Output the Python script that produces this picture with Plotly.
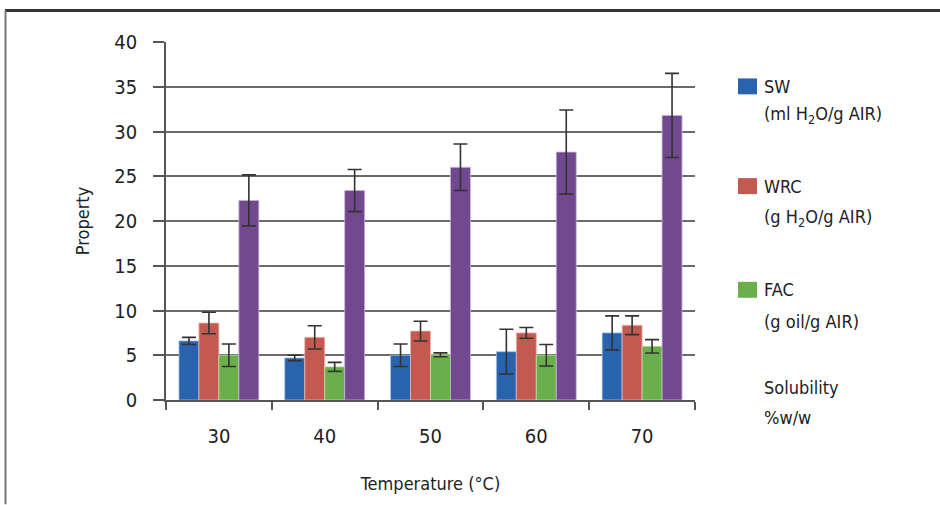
import plotly.graph_objects as go

categories = ["30", "40", "50", "60", "70"]

sw_values = [6.6, 4.7, 5.0, 5.4, 7.5]
sw_errors = [0.4, 0.3, 1.25, 2.5, 1.9]

wrc_values = [8.6, 7.0, 7.7, 7.5, 8.35]
wrc_errors = [1.2, 1.3, 1.1, 0.6, 1.05]

fac_values = [5.0, 3.7, 5.05, 5.0, 6.0]
fac_errors = [1.25, 0.5, 0.22, 1.2, 0.75]

sol_values = [22.3, 23.4, 26.0, 27.7, 31.8]
sol_errors = [2.85, 2.35, 2.6, 4.7, 4.7]

y_ticks = [0, 5, 10, 15, 20, 25, 30, 35, 40]

FONT = "DejaVu Sans Condensed, Liberation Sans Narrow, sans-serif"
TXT = "#222222"

W, H = 940, 505
L, R, T, B = 166, 695, 41.5, 400.5


def px(x):
    return (x - L) / (R - L)


def py(y):
    return (B - y) / (B - T)


series = [
    ("SW", sw_values, sw_errors, "#2A63AD", "rgba(160,190,230,0.8)"),
    ("WRC", wrc_values, wrc_errors, "#C35A51", "rgba(235,180,175,0.8)"),
    ("FAC", fac_values, fac_errors, "#6AAF4B", "rgba(185,225,170,0.8)"),
    ("Solubility", sol_values, sol_errors, "#72488F", "rgba(200,180,220,0.8)"),
]

fig = go.Figure()
for name, vals, errs, color, edge in series:
    fig.add_trace(go.Bar(
        x=categories, y=vals, name=name,
        marker=dict(color=color, line=dict(color=edge, width=1)),
        error_y=dict(type="data", array=errs, visible=True,
                     color="#333333", thickness=1.6, width=7),
        showlegend=False,
    ))

fig.update_layout(
    width=W, height=H,
    margin=dict(l=L, r=W - R, t=T, b=H - B, pad=0),
    paper_bgcolor="white", plot_bgcolor="white",
    barmode="group", bargap=0.245, bargroupgap=0,
    font=dict(family=FONT, color=TXT, size=19),
    xaxis=dict(
        type="category", tickson="boundaries",
        ticks="outside", ticklen=8, tickwidth=1.5, tickcolor="#555555",
        showline=True, linecolor="#555555", linewidth=1.5,
        showgrid=False,
        ticklabelstandoff=17,
        tickfont=dict(family=FONT, size=20, color=TXT),
        title=dict(text="Temperature (°C)", font=dict(family=FONT, size=18, color=TXT), standoff=31),
    ),
    yaxis=dict(
        range=[0, 40], tickvals=y_ticks, ticktext=[str(v) for v in y_ticks],
        ticks="outside", ticklen=11, tickwidth=1.5, tickcolor="#555555",
        showline=True, linecolor="#555555", linewidth=1.5,
        showgrid=True, gridcolor="#6b6b6b", gridwidth=1.5,
        zeroline=False,
        ticklabelstandoff=12,
        tickfont=dict(family=FONT, size=20, color=TXT),
        title=dict(text="Property", font=dict(family=FONT, size=18, color=TXT), standoff=20),
    ),
)

# frame around the figure
fig.add_shape(type="line", xref="paper", yref="paper",
              x0=px(5), x1=px(940), y0=py(10), y1=py(10),
              line=dict(color="#333333", width=3))
fig.add_shape(type="line", xref="paper", yref="paper",
              x0=px(5.5), x1=px(5.5), y0=py(10), y1=py(505),
              line=dict(color="#777777", width=2))

# custom legend
legend_items = [
    ("SW", "(ml H<sub>2</sub>O/g AIR)", "#2A63AD", 86, 115),
    ("WRC", "(g H<sub>2</sub>O/g AIR)", "#C35A51", 186, 218),
    ("FAC", "(g oil/g AIR)", "#6AAF4B", 290, 322),
]
for label, sub, color, y1, y2 in legend_items:
    fig.add_shape(type="rect", xref="paper", yref="paper",
                  x0=px(738), x1=px(757), y0=py(y1 - 8), y1=py(y1 + 8),
                  fillcolor=color, line=dict(width=0))
    fig.add_annotation(xref="paper", yref="paper", x=px(762), y=py(y1),
                       text=label, showarrow=False, xanchor="left", yanchor="middle",
                       font=dict(family=FONT, size=18, color=TXT))
    fig.add_annotation(xref="paper", yref="paper", x=px(762), y=py(y2),
                       text=sub, showarrow=False, xanchor="left", yanchor="middle",
                       font=dict(family=FONT, size=18, color=TXT))

fig.add_annotation(xref="paper", yref="paper", x=px(762), y=py(388),
                   text="Solubility", showarrow=False, xanchor="left", yanchor="middle",
                   font=dict(family=FONT, size=18, color=TXT))
fig.add_annotation(xref="paper", yref="paper", x=px(762), y=py(418),
                   text="%w/w", showarrow=False, xanchor="left", yanchor="middle",
                   font=dict(family=FONT, size=18, color=TXT))

fig.write_html("out.html", config={"displayModeBar": False},
               post_script="document.body.style.margin='0px';")
